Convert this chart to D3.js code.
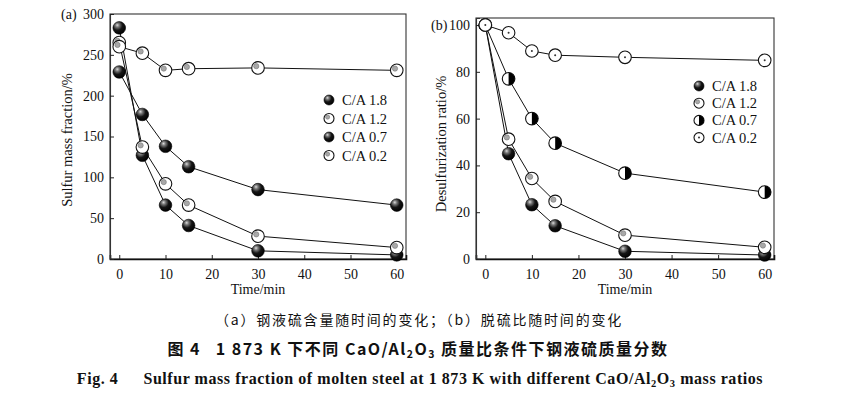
<!DOCTYPE html>
<html>
<head>
<meta charset="utf-8">
<script src="https://cdn.jsdelivr.net/npm/d3@7"></script>
<style>
  body { margin: 0; background: #fff; }
  svg { display: block; }
  text { fill: #111; }
</style>
</head>
<body>
<div id="container"></div>
<script>
// sampling times (min)
const times = [0, 5, 10, 15, 30, 60];
const seriesNames = ['C/A 1.8', 'C/A 1.2', 'C/A 0.7', 'C/A 0.2'];

// (a) sulfur mass fraction
const sulfurCA18 = [283, 127, 66, 41, 10, 5];
const sulfurCA12 = [265, 137, 92, 66, 28, 14];
const sulfurCA07 = [229, 177, 138, 113, 85, 66];
const sulfurCA02 = [260, 252, 231, 233, 234, 231];

// (b) desulfurization ratio
const ratioCA18 = [100, 45, 23.2, 14.2, 3.3, 1.7];
const ratioCA12 = [100, 51.2, 34.4, 24.6, 10.2, 5];
const ratioCA07 = [100, 77, 60, 49.5, 36.7, 28.6];
const ratioCA02 = [100, 96.7, 88.9, 87.1, 86.2, 84.9];

const xTicks = [0, 10, 20, 30, 40, 50, 60];
const sulfurTicks = [0, 50, 100, 150, 200, 250, 300];
const ratioTicks = [0, 20, 40, 60, 80, 100];

const W = 850, H = 398;
const serif = '"Liberation Serif", "Times New Roman", serif';
const cjk = '"Noto Sans CJK SC", sans-serif';

const svg = d3.select('#container').append('svg')
  .attr('width', W).attr('height', H)
  .attr('viewBox', `0 0 ${W} ${H}`);

const defs = svg.append('defs');
const ball = defs.append('radialGradient')
  .attr('id', 'ball')
  .attr('cx', '38%').attr('cy', '32%').attr('r', '70%')
  .attr('fx', '34%').attr('fy', '28%');
ball.append('stop').attr('offset', '0%').attr('stop-color', '#dcdcdc');
ball.append('stop').attr('offset', '22%').attr('stop-color', '#7a7a7a');
ball.append('stop').attr('offset', '55%').attr('stop-color', '#151515');
ball.append('stop').attr('offset', '100%').attr('stop-color', '#000');

// marker drawers, g is centred at the point
function drawMarker(g, kind, r) {
  if (kind === 'ball') {
    g.append('circle').attr('r', r).attr('fill', 'url(#ball)')
      .attr('stroke', '#000').attr('stroke-width', 0.6);
  } else if (kind === 'dot') {
    g.append('circle').attr('r', r).attr('fill', '#fff')
      .attr('stroke', '#111').attr('stroke-width', 1.1);
    g.append('circle').attr('r', r * 0.42)
      .attr('cx', -r * 0.28).attr('cy', -r * 0.28)
      .attr('fill', '#a8a8a8').attr('stroke', '#666').attr('stroke-width', 0.5);
  } else if (kind === 'half') {
    g.append('circle').attr('r', r).attr('fill', '#fff')
      .attr('stroke', '#111').attr('stroke-width', 1.1);
    g.append('path')
      .attr('d', `M0,${-r} A${r},${r} 0 0 1 0,${r} Z`)
      .attr('fill', '#000');
  } else if (kind === 'center') {
    g.append('circle').attr('r', r).attr('fill', '#fff')
      .attr('stroke', '#111').attr('stroke-width', 1.1);
    g.append('circle').attr('r', 1).attr('fill', '#333');
  }
}

function drawPanel(opt) {
  const x = d3.scaleLinear().domain([-2, 62]).range([opt.left, opt.right]);
  const y = d3.scaleLinear().domain(opt.yDomain).range([259, opt.top]);
  const g = svg.append('g');

  // frame
  g.append('rect')
    .attr('x', opt.left).attr('y', opt.top)
    .attr('width', opt.right - opt.left).attr('height', 259 - opt.top)
    .attr('fill', 'none').attr('stroke', '#333').attr('stroke-width', 1.1);

  // axes with inward ticks
  const xAxis = g.append('g')
    .attr('transform', 'translate(0,259)')
    .call(d3.axisBottom(x).tickValues(xTicks).tickSize(-4).tickPadding(10));
  xAxis.select('.domain').attr('stroke', '#111').attr('stroke-width', 1.6);
  xAxis.selectAll('.tick line').attr('stroke', '#222');
  xAxis.selectAll('text').attr('font-family', serif).attr('font-size', 14).attr('fill', '#111');

  const yAxis = g.append('g')
    .attr('transform', `translate(${opt.left},0)`)
    .call(d3.axisLeft(y).tickValues(opt.yTicks).tickSize(-4).tickPadding(6));
  yAxis.select('.domain').attr('stroke', '#333').attr('stroke-width', 1.1);
  yAxis.selectAll('.tick line').attr('stroke', '#222');
  yAxis.selectAll('text').attr('font-family', serif).attr('font-size', 14).attr('fill', '#111');

  // titles
  g.append('text')
    .attr('x', (opt.left + opt.right) / 2).attr('y', 294)
    .attr('text-anchor', 'middle')
    .attr('font-family', serif).attr('font-size', 14)
    .text('Time/min');

  g.append('text')
    .attr('transform', `translate(${opt.yTitleX},${opt.yTitleY}) rotate(-90)`)
    .attr('text-anchor', 'middle')
    .attr('font-family', serif).attr('font-size', 14.5)
    .text(opt.yTitle);

  g.append('text')
    .attr('x', opt.tagX).attr('y', opt.tagY)
    .attr('font-family', serif).attr('font-size', 14)
    .text(opt.tag);

  const line = d3.line().x((d, i) => x(times[i])).y(d => y(d));

  opt.series.forEach(s => {
    g.append('path')
      .attr('d', line(s.values))
      .attr('fill', 'none').attr('stroke', '#111').attr('stroke-width', 1);
  });

  opt.series.forEach(s => {
    g.selectAll(null).data(s.values).enter().append('g')
      .attr('transform', (d, i) => `translate(${x(times[i])},${y(d)})`)
      .each(function () { drawMarker(d3.select(this), s.marker, 6.3); });
  });

  // legend
  const lg = g.append('g');
  opt.series.forEach((s, i) => {
    const row = lg.append('g')
      .attr('transform', `translate(${opt.legendX},${opt.legendY + i * opt.legendStep})`);
    drawMarker(row.append('g'), s.marker, 5);
    row.append('text')
      .attr('x', 13).attr('y', 5)
      .attr('font-family', serif).attr('font-size', 14.5)
      .text(s.name);
  });
}

drawPanel({
  left: 110, right: 406, top: 14,
  yDomain: [0, 300], yTicks: sulfurTicks,
  yTitle: 'Sulfur mass fraction/%', yTitleX: 72, yTitleY: 140,
  tag: '(a)', tagX: 61, tagY: 19,
  legendX: 329, legendY: 100, legendStep: 18.5,
  series: [
    { name: seriesNames[0], values: sulfurCA18, marker: 'ball' },
    { name: seriesNames[1], values: sulfurCA12, marker: 'dot' },
    { name: seriesNames[2], values: sulfurCA07, marker: 'ball' },
    { name: seriesNames[3], values: sulfurCA02, marker: 'dot' }
  ]
});

drawPanel({
  left: 476, right: 774, top: 18,
  yDomain: [0, 103], yTicks: ratioTicks,
  yTitle: 'Desulfurization ratio/%', yTitleX: 446, yTitleY: 144,
  tag: '(b)', tagX: 431, tagY: 30,
  legendX: 699, legendY: 86, legendStep: 17.2,
  series: [
    { name: seriesNames[0], values: ratioCA18, marker: 'ball' },
    { name: seriesNames[1], values: ratioCA12, marker: 'dot' },
    { name: seriesNames[2], values: ratioCA07, marker: 'half' },
    { name: seriesNames[3], values: ratioCA02, marker: 'center' }
  ]
});

// captions
svg.append('text')
  .attr('x', 419).attr('y', 325)
  .attr('text-anchor', 'middle')
  .attr('font-family', cjk).attr('font-size', 14).attr('letter-spacing', 1.8)
  .text('（a）钢液硫含量随时间的变化；（b）脱硫比随时间的变化');

const cap2 = svg.append('text')
  .attr('x', 418).attr('y', 355)
  .attr('text-anchor', 'middle')
  .attr('font-family', cjk).attr('font-size', 16).attr('font-weight', 'bold')
  .attr('letter-spacing', 1.5);
cap2.append('tspan').text('图 4\u2002 1 873 K 下不同 CaO/Al');
cap2.append('tspan').attr('font-size', 10.5).attr('dy', 3).text('2');
cap2.append('tspan').attr('dy', -3).text('O');
cap2.append('tspan').attr('font-size', 10.5).attr('dy', 3).text('3');
cap2.append('tspan').attr('dy', -3).text(' 质量比条件下钢液硫质量分数');

const cap3 = svg.append('text')
  .attr('x', 420).attr('y', 384)
  .attr('text-anchor', 'middle')
  .attr('font-family', serif).attr('font-size', 16).attr('font-weight', 'bold')
  .attr('letter-spacing', 0.55);
cap3.append('tspan').text('Fig. 4\u2003\u2002Sulfur mass fraction of molten steel at 1 873 K with different CaO/Al');
cap3.append('tspan').attr('font-size', 10.5).attr('dy', 3).text('2');
cap3.append('tspan').attr('dy', -3).text('O');
cap3.append('tspan').attr('font-size', 10.5).attr('dy', 3).text('3');
cap3.append('tspan').attr('dy', -3).text(' mass ratios');
</script>
</body>
</html>
